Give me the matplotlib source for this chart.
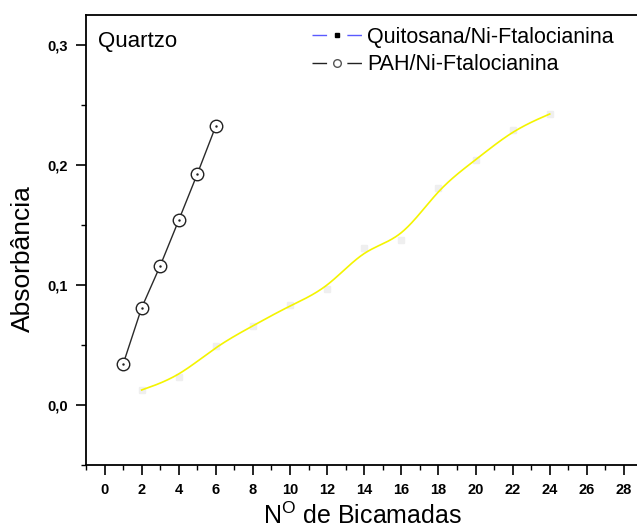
import numpy as np
import matplotlib
matplotlib.use("Agg")
import matplotlib.pyplot as plt
from matplotlib.lines import Line2D
from matplotlib.ticker import FixedLocator

plt.rcParams['font.family'] = ['Liberation Sans', 'DejaVu Sans']
plt.rcParams['mathtext.default'] = 'regular'

# Data
pah_x = [1, 2, 3, 4, 5, 6]
pah_y = [0.034, 0.081, 0.116, 0.154, 0.1925, 0.2325]

quit_x = [2, 4, 6, 8, 10, 12, 14, 16, 18, 20, 22, 24]
quit_y = [0.0125, 0.0235, 0.049, 0.066, 0.083, 0.0967, 0.1308, 0.1375, 0.181, 0.204, 0.229, 0.2425]

xticks = [0, 2, 4, 6, 8, 10, 12, 14, 16, 18, 20, 22, 24, 26, 28]
xticklabels = [str(v) for v in xticks]
yticks = [0.0, 0.1, 0.2, 0.3]
yticklabels = ['0,0', '0,1', '0,2', '0,3']

legend_labels = ['Quitosana/Ni-Ftalocianina', 'PAH/Ni-Ftalocianina']


def bspline(x, y, n=40):
    """Uniform cubic B-spline using the data points as control points (clamped ends)."""
    P = np.column_stack([x, y]).astype(float)
    P = np.vstack([P[0], P[0], P, P[-1], P[-1]])
    t = np.linspace(0, 1, n)
    B = np.column_stack([(1 - t) ** 3,
                         3 * t ** 3 - 6 * t ** 2 + 4,
                         -3 * t ** 3 + 3 * t ** 2 + 3 * t + 1,
                         t ** 3]) / 6.0
    segs = [B @ P[i:i + 4] for i in range(len(P) - 3)]
    out = np.vstack(segs)
    return out[:, 0], out[:, 1]


fig = plt.figure(figsize=(6.37, 5.31), dpi=100)
ax = fig.add_axes([86 / 637, 66 / 531, 575 / 637, 450 / 531])
ax.set_xlim(-1, 30.0)
ax.set_ylim(-0.05, 0.325)

# Quitosana series: faint square markers + smooth yellow curve
ax.plot(quit_x, quit_y, linestyle='none', marker='s', markersize=5,
        markerfacecolor='#efefef', markeredgecolor='#efefef', zorder=2)
sx, sy = bspline(quit_x, quit_y)
ax.plot(sx, sy, color='#f4f400', linewidth=1.2, zorder=3)

# PAH series
ax.plot(pah_x, pah_y, color='#2a2a2a', linewidth=1.0, marker='o', markersize=9,
        markerfacecolor='white', markeredgecolor='#222222', markeredgewidth=1.0, zorder=4)
ax.plot(pah_x, pah_y, linestyle='none', marker='.', markersize=1.5, color='#222222', zorder=5)

for s in ['left', 'bottom', 'top', 'right']:
    ax.spines[s].set_linewidth(1.3)
    ax.spines[s].set_color('black')
ax.spines['right'].set_visible(False)

ax.set_xticks(xticks)
ax.set_xticklabels(xticklabels)
ax.xaxis.set_minor_locator(FixedLocator(list(range(-1, 30, 2))))
ax.set_yticks(yticks)
ax.set_yticklabels(yticklabels)
ax.yaxis.set_minor_locator(FixedLocator([-0.05, 0.05, 0.15, 0.25]))
ax.tick_params(which='major', direction='out', length=7, width=1.2, top=False, right=False,
               labelsize=10.5, pad=6)
ax.tick_params(which='minor', direction='out', length=3.5, width=1.0, top=False, right=False)
for lab in ax.get_xticklabels() + ax.get_yticklabels():
    lab.set_fontweight('bold')

ax.set_ylabel('Absorbância', fontsize=19)
ax.yaxis.set_label_coords((35 - 86) / 575, (465 - 259) / 450)
ax.set_xlabel('N$^{O}$ de Bicamadas', fontsize=18)
ax.xaxis.set_label_coords((363 - 86) / 575, (465 - 503) / 450)

ax.text(98 / 637, 1 - 41 / 531, 'Quartzo', transform=fig.transFigure, fontsize=16,
        va='center', ha='left')

handles = [
    Line2D([], [], color='#5a5aff', linewidth=1.0, dashes=(10.5, 14.6), marker='s', markersize=3.5,
           markerfacecolor='black', markeredgecolor='black'),
    Line2D([], [], color='#222222', linewidth=1.0, dashes=(10.5, 14.6), marker='o', markersize=5.5,
           markerfacecolor='white', markeredgecolor='#555555'),
]
fig.legend(handles, legend_labels, loc='upper left', bbox_to_anchor=(312 / 637, 1 - 27 / 531),
           frameon=False, fontsize=15.5, handlelength=2.3, handletextpad=0.25,
           labelspacing=0.3, borderpad=0, borderaxespad=0)

fig.savefig('out.png', dpi=100)
